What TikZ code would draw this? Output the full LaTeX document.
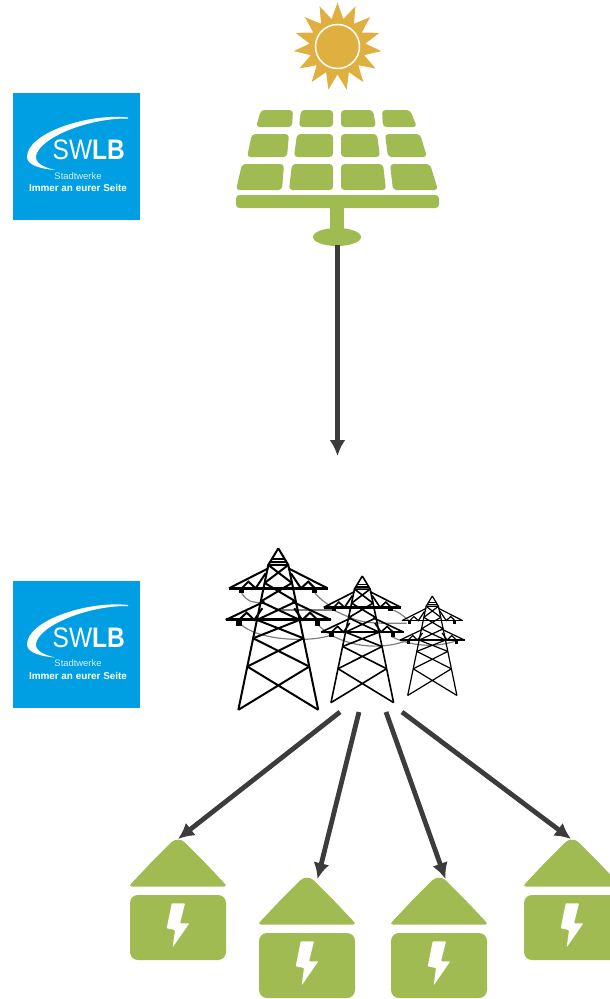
\documentclass[tikz,border=0pt]{standalone}
\usepackage{fontspec}
\setmainfont{Liberation Sans}
\usepackage{xcolor}
\usetikzlibrary{arrows.meta}
\definecolor{leaf}{HTML}{A0BB52}
\definecolor{sunny}{HTML}{DFB040}
\definecolor{swblue}{HTML}{009FE3}
\definecolor{flow}{HTML}{3C3C3C}
\newcommand{\panelcell}[6]{\fill[leaf,rounded corners=3.5] (#1,#5) -- (#2,#5) -- (#3,#6) -- (#4,#6) -- cycle;}
\tikzset{
  flowarrow/.style={line width=4.8,flow,-{Latex[length=16,width=16]}},
  wire/.style={gray,line width=1.2},
  logo/.pic={
    \fill[swblue] (0,0) rectangle (127,127);
    \fill[white] (115,24.5) .. controls (75,20) and (14,40) .. (14,64) .. controls (14,72) and (28,76) .. (42,77) .. controls (30,74) and (22,70) .. (23,63) .. controls (26,45) and (75,25) .. (115,25.5) -- cycle;
    \node[white,font=\fontsize{24.5}{24.5}\selectfont,inner sep=0,anchor=west,yscale=1.15,transform shape] (name) at (39.5,57) {SW\textbf{LB}};
    \node[white!85!swblue,font=\fontsize{9.4}{9.4}\selectfont,inner sep=0] (town) at (65,83) {Stadtwerke};
    \node[white,font=\bfseries\fontsize{9.9}{9.9}\selectfont,inner sep=0] (claim) at (65,95) {Immer an eurer Seite};
  },
  house/.pic={
    \fill[leaf] [rounded corners=10] (-25,21.5) -- (0,-3.5) -- (25,21.5) [rounded corners=3.5] -- (49.5,47.5) -- (-49.5,47.5) -- cycle;
    \fill[leaf,rounded corners=8] (-48,56) rectangle (48,121);
    \fill[white,rounded corners=0.8] (-6.3,64.3) -- (7,64.3) -- (2,84.3) -- (11.3,84.3) -- (-5.3,108.3) -- (-3,91) -- (-11.3,89.3) -- cycle;
  },
  pylon/.pic={
    % apex, legs
    \draw (0,25) -- (-30,75) (0,25) -- (30,75);
    \draw (-120,510) -- (-30,75) -- (30,75) -- (120,510);
    \draw (-20,58) -- (20,58) (-25,66) -- (25,66);
    % lattice of the mast
    \foreach \ya/\wa/\yb/\wb in {75/30/129/41,129/41/185/53,185/53/240/64,240/64/295/75.5,295/75.5/380/93,380/93/510/120}{
      \draw (-\wa,\ya) -- (\wb,\yb) (\wa,\ya) -- (-\wb,\yb);
    }
    % upper arm
    \draw (-30,85) -- (-148,145) (148,145) -- (30,85);
    \draw[line width=1.2\pgflinewidth] (-148,145) -- (148,145);
    \draw (-110,145) -- (-90,125) -- (-68,145) -- (-38,100) (110,145) -- (90,125) -- (68,145) -- (38,100);
    \draw[line width=1.6\pgflinewidth] (-110,145) -- (-110,160) (108,145) -- (108,160);
    % lower arm
    \draw (-42,185) -- (-158,240) (158,240) -- (42,185);
    \draw[line width=1.2\pgflinewidth] (-158,240) -- (158,240);
    \draw (-118,240) -- (-95,218) -- (-72,240) -- (-48,205) (118,240) -- (95,218) -- (72,240) -- (48,205);
    \draw[line width=1.6\pgflinewidth] (-118,240) -- (-118,258) (118,240) -- (118,258);
  }
}
\begin{document}
\begin{tikzpicture}[x=1pt,y=-1pt,>=Latex]
    \useasboundingbox (0,0) rectangle (610,999);
    % sun
    \fill[sunny] (337.5,2.5) \foreach \a in {0,...,14}{
      -- ({337.5+28*sin((\a+.5)*24)},{46.5-28*cos((\a+.5)*24)}) -- ({337.5+44*sin((\a+1)*24)},{46.5-44*cos((\a+1)*24)})
    } -- cycle;
    \filldraw[fill=sunny,draw=white,line width=1.5] (337.5,46.5) circle (22);
    % solar panel
    \panelcell{261}{293}{292}{256}{110}{127}
    \panelcell{301}{333}{333}{299}{110}{127}
    \panelcell{341}{373}{376}{341}{110}{127}
    \panelcell{382}{410}{417}{383}{110}{127}
    \panelcell{252}{289}{287}{247}{134}{157}
    \panelcell{297}{333}{333}{294}{134}{157}
    \panelcell{341}{377}{380}{341}{134}{157}
    \panelcell{385}{420}{427}{388}{134}{157}
    \panelcell{242}{284}{282}{236}{164}{190}
    \panelcell{292}{333}{333}{289}{164}{190}
    \panelcell{341}{383}{386}{341}{164}{190}
    \panelcell{390}{430}{438}{393}{164}{190}
    \fill[leaf,rounded corners=3.5] (236,195) rectangle (439,208);
    \fill[leaf] (330,207) rectangle (344,232);
    \fill[leaf] (337,237) ellipse [x radius=24,y radius=9];
    % logos
    \pic (logoSolar) at (13,93) {logo};
    \pic (logoGrid) at (13,580.5) {logo};
    % wires
    \begin{scope}[shift={(215,540)},x=1/3*1pt,y=-1/3*1pt]
      \draw[wire] (75,250) .. controls (120,300) and (280,310) .. (350,285);
      \draw[wire] (310,255) .. controls (360,310) and (480,340) .. (580,300);
      \draw[wire] (80,160) .. controls (100,185) .. (150,190);
      \draw[wire] (300,160) .. controls (320,180) .. (355,205);
      \draw[wire] (200,210) -- (350,210);
      \draw[wire] (355,210) .. controls (440,250) .. (575,250);
      \draw[wire] (535,210) .. controls (555,220) .. (580,240);
      \draw[wire] (530,290) .. controls (600,325) and (680,320) .. (730,300);
    \end{scope}
    % pylons
    \pic[line width=2,black,scale=0.333] at (278.3,540) {pylon};
    \pic[line width=1.6,black,scale=0.261] at (362.3,569.5) {pylon};
    \pic[line width=1.2,black,scale=0.205] at (432.3,590.9) {pylon};
    % houses
    \pic (houseA) at (178,839) {house};
    \pic (houseB) at (307,877) {house};
    \pic (houseC) at (439,877) {house};
    \pic (houseD) at (572,839) {house};
    % arrows
    \coordinate (panelfoot) at (337.5,245);
    \coordinate (gridin) at (337.5,456);
    \coordinate (gridA) at (340,712);
    \coordinate (gridB) at (359,712);
    \coordinate (gridC) at (386,712);
    \coordinate (gridD) at (402,712);
    \coordinate (roofA) at (178,839);
    \coordinate (roofB) at (317.5,879);
    \coordinate (roofC) at (445.5,879);
    \coordinate (roofD) at (571,839);
    \draw[flowarrow] (panelfoot) -- (gridin);
    \draw[flowarrow] (gridA) -- (roofA);
    \draw[flowarrow] (gridB) -- (roofB);
    \draw[flowarrow] (gridC) -- (roofC);
    \draw[flowarrow] (gridD) -- (roofD);
\end{tikzpicture}
\end{document}
